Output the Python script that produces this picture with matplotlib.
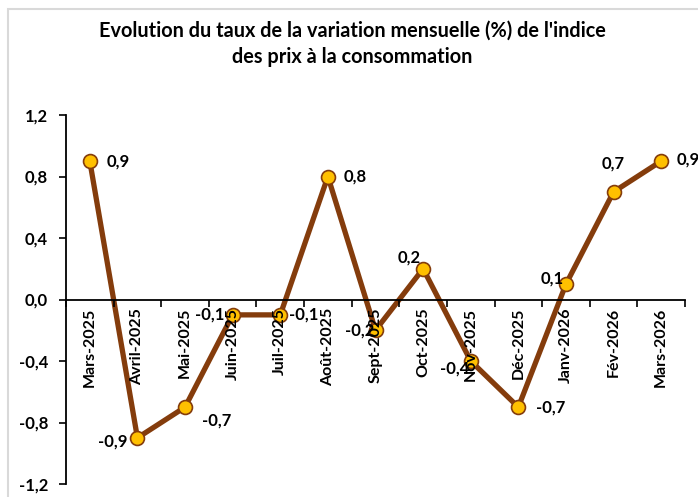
import numpy as np
import matplotlib
matplotlib.use('Agg')
import matplotlib.pyplot as plt
from matplotlib.patches import Rectangle

# data
mois = ["Mars-2025", "Avril-2025", "Mai-2025", "Juin-2025", "Juil-2025", "Août-2025",
        "Sept-2025", "Oct-2025", "Nov-2025", "Déc-2025", "Janv-2026", "Fév-2026", "Mars-2026"]
variation = [0.9, -0.9, -0.7, -0.1, -0.1, 0.8, -0.2, 0.2, -0.4, -0.7, 0.1, 0.7, 0.9]
etiquettes = ["0,9", "-0,9", "-0,7", "-0,1", "-0,1", "0,8", "-0,2", "0,2", "-0,4", "-0,7", "0,1", "0,7", "0,9"]
yticks = [-1.2, -0.8, -0.4, 0.0, 0.4, 0.8, 1.2]
ytick_labels = ["-1,2", "-0,8", "-0,4", "0,0", "0,4", "0,8", "1,2"]

# label offsets (pixels, y up) and alignment, as in the Excel chart
decal = [(17, 0, 'left'), (-10, -4, 'right'), (17, -13, 'left'), (-8, 0, 'right'),
         (9, 0, 'left'), (16, 0, 'left'), (-1, 0, 'right'), (-2, 11, 'right'),
         (-1, -8, 'right'), (18, 0, 'left'), (-2, 6, 'right'), (0, 28, 'center'),
         (15, 2, 'left')]

plt.rcParams['font.family'] = ['Lato', 'DejaVu Sans']
plt.rcParams['font.weight'] = 'bold'

fig = plt.figure(figsize=(6.98, 4.97), dpi=100)
ax = fig.add_axes([66/698, 1-484/497, (685-66)/698, (484-115)/497])
ax.set_axisbelow(False)   # category labels drawn over the series, as in Excel

x = np.arange(len(mois))
ax.plot(x, variation, color='#843C0C', lw=3.8, marker='o', ms=10,
        mfc='#FFC000', mec='#843C0C', mew=1.2, zorder=2, clip_on=False)

for xi, yi, lab, (dx, dy, ha) in zip(x, variation, etiquettes, decal):
    ax.annotate(lab, (xi, yi), xytext=(dx, dy), textcoords='offset pixels',
                ha=ha, va='center', fontsize=12, fontweight='bold', zorder=4)

ax.set_xlim(-0.5, len(mois) - 0.5)
ax.set_ylim(-1.2, 1.2)
ax.set_yticks(yticks)
ax.set_yticklabels(ytick_labels, fontsize=12, fontweight='bold')
ax.tick_params(axis='y', direction='out', length=5, width=1.2, pad=8)

ax.spines['top'].set_visible(False)
ax.spines['right'].set_visible(False)
ax.spines['bottom'].set_position(('data', 0))
ax.spines['left'].set_linewidth(1.3)
ax.spines['bottom'].set_linewidth(1.3)

ax.set_xticks(x)
ax.set_xticklabels(mois, rotation=90, fontsize=11.5, fontweight='bold', va='top', ha='center')
ax.set_xticks(np.arange(len(mois) + 1) - 0.5, minor=True)
ax.tick_params(axis='x', which='major', length=0, pad=6)
ax.tick_params(axis='x', which='minor', direction='out', length=5, width=1.2)

fig.text(0.505, 1-44/497, "Evolution du taux de la variation mensuelle (%) de l'indice\ndes prix à la consommation",
         ha='center', va='center', fontsize=14.3, fontweight='bold', linespacing=1.4)

# light grey chart-area border (top and left edges visible)
fig.patches.append(Rectangle((8/698, -0.1), 1.2, 1 - 9/497 + 0.1, transform=fig.transFigure,
                             fill=False, edgecolor='#D9D9D9', lw=1.5))

fig.savefig('out.png', dpi=100)
